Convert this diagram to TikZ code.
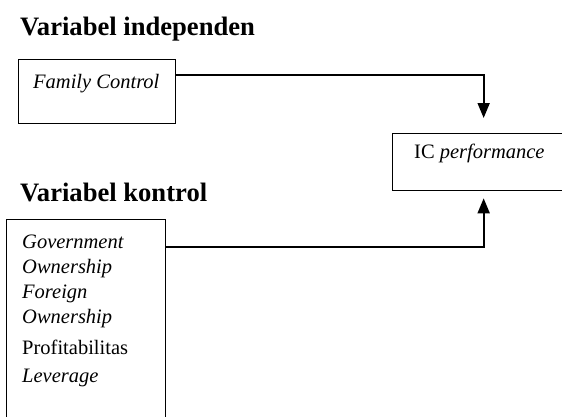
\documentclass[tikz,border=0pt]{standalone}
\usepackage{fontspec}
\setmainfont{Liberation Serif}
\usepackage{tikz}
\usetikzlibrary{arrows.meta, positioning}

\begin{document}
\begin{tikzpicture}[x=1pt,y=-1pt,>={Triangle[length=15pt,width=12pt]},
        box/.style={draw,line width=1.3pt,inner sep=0pt},
        head/.style={font=\fontsize{26.6}{30}\selectfont\bfseries,anchor=base west,inner sep=0pt},
        txt/.style={font=\fontsize{20.5}{25}\selectfont,anchor=base west,inner sep=0pt},
        link/.style={line width=1.8pt}]

      \useasboundingbox (0,0) rectangle (562,416);
      \clip (0,0) rectangle (562,416);

      \node[head] (h_ind) at (20,35)  {Variabel independen};
      \node[head] (h_ctl) at (20,201) {Variabel kontrol};

      \node[box,anchor=north west,minimum width=157pt,minimum height=64pt] (fam) at (18,59) {};
      \node[txt] (fam_t) at (33,88) {\textit{Family Control}};

      \node[box,anchor=north west,minimum width=182pt,minimum height=57pt] (ic) at (392,133) {};
      \node[txt] (ic_t) at (414,158) {IC \textit{performance}};

      % base of a multi-line node = last line
      \node[box,anchor=north west,minimum width=159pt,minimum height=230pt] (ctl) at (6,219) {};
      \node[txt,align=left,anchor=base west] (ctl_t) at (22,382)
           {\textit{Government}\\\textit{Ownership}\\\textit{Foreign}\\\textit{Ownership}\\[6pt]
            Profitabilitas\\[3pt]\textit{Leverage}};

      \draw[link,->,shorten >=15pt] ([yshift=17pt]fam.east) -| (ic.north);
      \draw[link,->,shorten >=7pt] ([yshift=-28pt]ctl.north east) -| (ic.south);
\end{tikzpicture}
\end{document}
